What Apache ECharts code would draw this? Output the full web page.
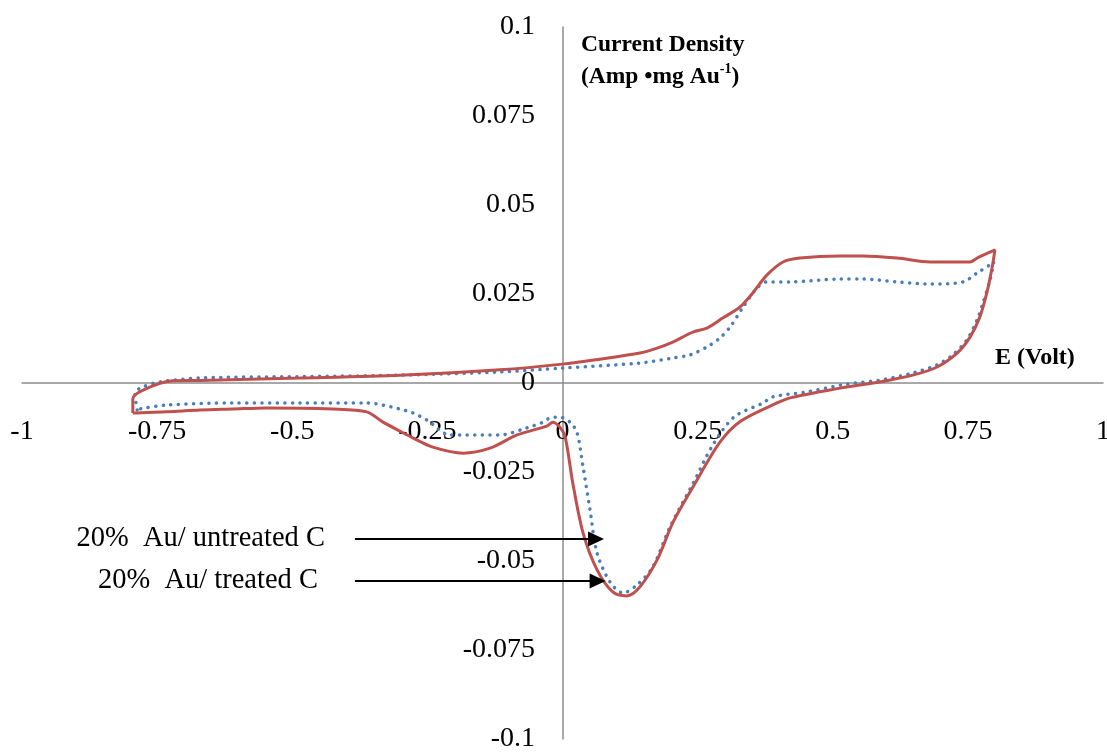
<!DOCTYPE html>
<html>
<head>
<meta charset="utf-8">
<script src="https://cdn.jsdelivr.net/npm/echarts@6/dist/echarts.min.js"></script>
<style>
html,body{margin:0;padding:0;background:#fff;}
#chart{width:1107px;height:753px;}
</style>
</head>
<body>
<div id="chart"></div>
<script>
// ---- Data (E in Volt, current density in Amp/mg Au) ----
const treatedE = [-0.795,-0.795,-0.776,-0.721,-0.671,-0.486,-0.301,-0.116,0.0,0.069,0.143,0.175,0.204,0.241,0.267,0.297,0.328,0.352,0.378,0.408,0.439,0.513,0.556,0.619,0.680,0.754,0.767,0.796,0.800,
  0.795,0.785,0.772,0.754,0.730,0.693,0.648,0.587,0.526,0.423,0.397,0.330,0.291,0.243,0.204,0.175,0.143,0.119,0.093,0.064,0.038,0.019,0.005,-0.005,-0.018,-0.029,-0.084,-0.134,-0.184,-0.240,-0.277,-0.301,-0.332,-0.362,-0.425,-0.547,-0.610,-0.671,-0.732,-0.787,-0.795];
const treatedJ = [-0.0084,-0.0045,-0.0020,0.0006,0.0007,0.0014,0.0022,0.0037,0.0053,0.0067,0.0084,0.0098,0.0115,0.0143,0.0154,0.0183,0.0213,0.0253,0.0303,0.0340,0.0351,0.0357,0.0357,0.0351,0.0340,0.0340,0.0351,0.0371,0.0374,
  0.0326,0.0253,0.0185,0.0129,0.0084,0.0045,0.0022,0.0003,-0.0011,-0.0041,-0.0056,-0.0107,-0.0167,-0.0288,-0.0393,-0.0497,-0.0573,-0.0598,-0.0587,-0.0525,-0.0421,-0.0281,-0.0152,-0.0124,-0.0110,-0.0121,-0.0146,-0.0183,-0.0197,-0.0180,-0.0154,-0.0135,-0.0110,-0.0081,-0.0073,-0.0070,-0.0073,-0.0076,-0.0081,-0.0084,-0.0084];

const untreatedE = [-0.787,-0.791,-0.776,-0.745,-0.671,-0.486,-0.301,-0.116,0.0,0.143,0.204,0.236,0.267,0.291,0.310,0.334,0.360,0.378,0.421,0.513,0.556,0.619,0.680,0.741,0.767,0.796,0.798,
  0.791,0.778,0.767,0.748,0.722,0.693,0.648,0.587,0.526,0.452,0.389,0.371,0.317,0.277,0.243,0.199,0.167,0.138,0.112,0.088,0.064,0.051,0.038,0.027,0.014,-0.005,-0.023,-0.036,-0.066,-0.116,-0.177,-0.208,-0.251,-0.277,-0.301,-0.362,-0.486,-0.610,-0.732,-0.782,-0.787];
const untreatedJ = [-0.0076,-0.0028,-0.0011,0.0003,0.0014,0.0018,0.0022,0.0031,0.0042,0.0056,0.0070,0.0079,0.0101,0.0126,0.0157,0.0213,0.0267,0.0284,0.0284,0.0292,0.0292,0.0284,0.0278,0.0284,0.0309,0.0337,0.0340,
  0.0289,0.0225,0.0177,0.0121,0.0079,0.0051,0.0028,0.0008,-0.0003,-0.0025,-0.0039,-0.0056,-0.0096,-0.0177,-0.0278,-0.0404,-0.0517,-0.0567,-0.0590,-0.0559,-0.0478,-0.0357,-0.0236,-0.0140,-0.0110,-0.0096,-0.0098,-0.0110,-0.0126,-0.0146,-0.0146,-0.0146,-0.0104,-0.0084,-0.0073,-0.0056,-0.0056,-0.0056,-0.0062,-0.0073,-0.0076];

const xTickValues = [-1,-0.75,-0.5,-0.25,0,0.25,0.5,0.75,1];
const xTickLabels = ['-1','-0.75','-0.5','-0.25','0','0.25','0.5','0.75','1'];
const yTickValues = [-0.1,-0.075,-0.05,-0.025,0,0.025,0.05,0.075,0.1];
const yTickLabels = ['-0.1','-0.075','-0.05','-0.025','0','0.025','0.05','0.075','0.1'];

const seriesNames = ['20%  Au/ treated C','20%  Au/ untreated C'];
// annotation arrows: [startE, endE, J]
const arrowUntreated = [-0.384, 0.062, -0.0438];
const arrowTreated = [-0.384, 0.065, -0.0556];

const yTitleLine1 = 'Current Density';
const yTitleLine2a = '(Amp \u2022mg Au';
const yTitleSup = '-1';
const yTitleLine2b = ')';
const xTitle = 'E (Volt)';

// ---- Build ----
const zip = (a,b) => a.map((v,i) => [v,b[i]]);
const FONT = "'Liberation Serif','Times New Roman',serif";
function fmt(values, labels){ return v => { for (let i=0;i<values.length;i++){ if (Math.abs(values[i]-v)<1e-9) return labels[i]; } return ''; }; }

const chart = echarts.init(document.getElementById('chart'), null, {renderer:'canvas'});
chart.setOption({
  animation:false,
  backgroundColor:'#ffffff',
  grid:{left:22,right:4,top:27,bottom:14,containLabel:false,outerBoundsMode:'none'},
  title:[
    {left:581, top:29, padding:0, text:'{a|'+yTitleLine1+'}\n{a|'+yTitleLine2a+'}{s|'+yTitleSup+'}{a|'+yTitleLine2b+'}',
     textStyle:{rich:{
       a:{fontFamily:FONT,fontWeight:'bold',fontSize:23.5,color:'#000',lineHeight:32},
       s:{fontFamily:FONT,fontWeight:'bold',fontSize:14,color:'#000',lineHeight:32,padding:[0,0,15,0]}
     }}},
    {left:995, top:346, padding:0, text:xTitle, textStyle:{fontFamily:FONT,fontWeight:'bold',fontSize:24,color:'#000'}}
  ],
  xAxis:{type:'value',min:-1,max:1,interval:0.25,
    axisLine:{onZero:true,lineStyle:{color:'#8c8c8c',width:1.5}},
    axisTick:{show:false},splitLine:{show:false},
    axisLabel:{showMinLabel:true,showMaxLabel:true,margin:-321,fontFamily:FONT,fontSize:28,color:'#000',formatter:fmt(xTickValues,xTickLabels)}},
  yAxis:{type:'value',min:-0.1,max:0.1,interval:0.025,
    axisLine:{show:true,onZero:true,lineStyle:{color:'#8c8c8c',width:1.5}},
    axisTick:{show:false},splitLine:{show:false},
    axisLabel:{showMinLabel:true,showMaxLabel:true,margin:-513,padding:[4,0,0,0],fontFamily:FONT,fontSize:28,color:'#000',formatter:fmt(yTickValues,yTickLabels)}},
  series:[
    {name:seriesNames[1],type:'line',data:zip(untreatedE,untreatedJ),showSymbol:false,symbol:'none',smooth:0.3,
     lineStyle:{color:'#4a7ebb',width:3.5,type:[0.1,7.5],cap:'round'},z:2,
     markLine:{silent:true,symbol:['none','triangle'],symbolSize:[15,16],
       lineStyle:{color:'#000',width:2,type:'solid'},
       label:{show:true,position:'start',distance:30,padding:[0,0,14,0],formatter:'{b}',fontFamily:FONT,fontSize:28.5,color:'#000'},
       data:[[{coord:[arrowUntreated[0],arrowUntreated[2]],name:seriesNames[1]},{coord:[arrowUntreated[1],arrowUntreated[2]]}]]}},
    {name:seriesNames[0],type:'line',data:zip(treatedE,treatedJ),showSymbol:false,symbol:'none',smooth:0.3,
     lineStyle:{color:'#c0504d',width:3},z:3,
     markLine:{silent:true,symbol:['none','triangle'],symbolSize:[15,16],
       lineStyle:{color:'#000',width:2,type:'solid'},
       label:{show:true,position:'start',distance:37,padding:[0,0,14,0],formatter:'{b}',fontFamily:FONT,fontSize:28.5,color:'#000'},
       data:[[{coord:[arrowTreated[0],arrowTreated[2]],name:seriesNames[0]},{coord:[arrowTreated[1],arrowTreated[2]]}]]}}
  ]
});
</script>
</body>
</html>
